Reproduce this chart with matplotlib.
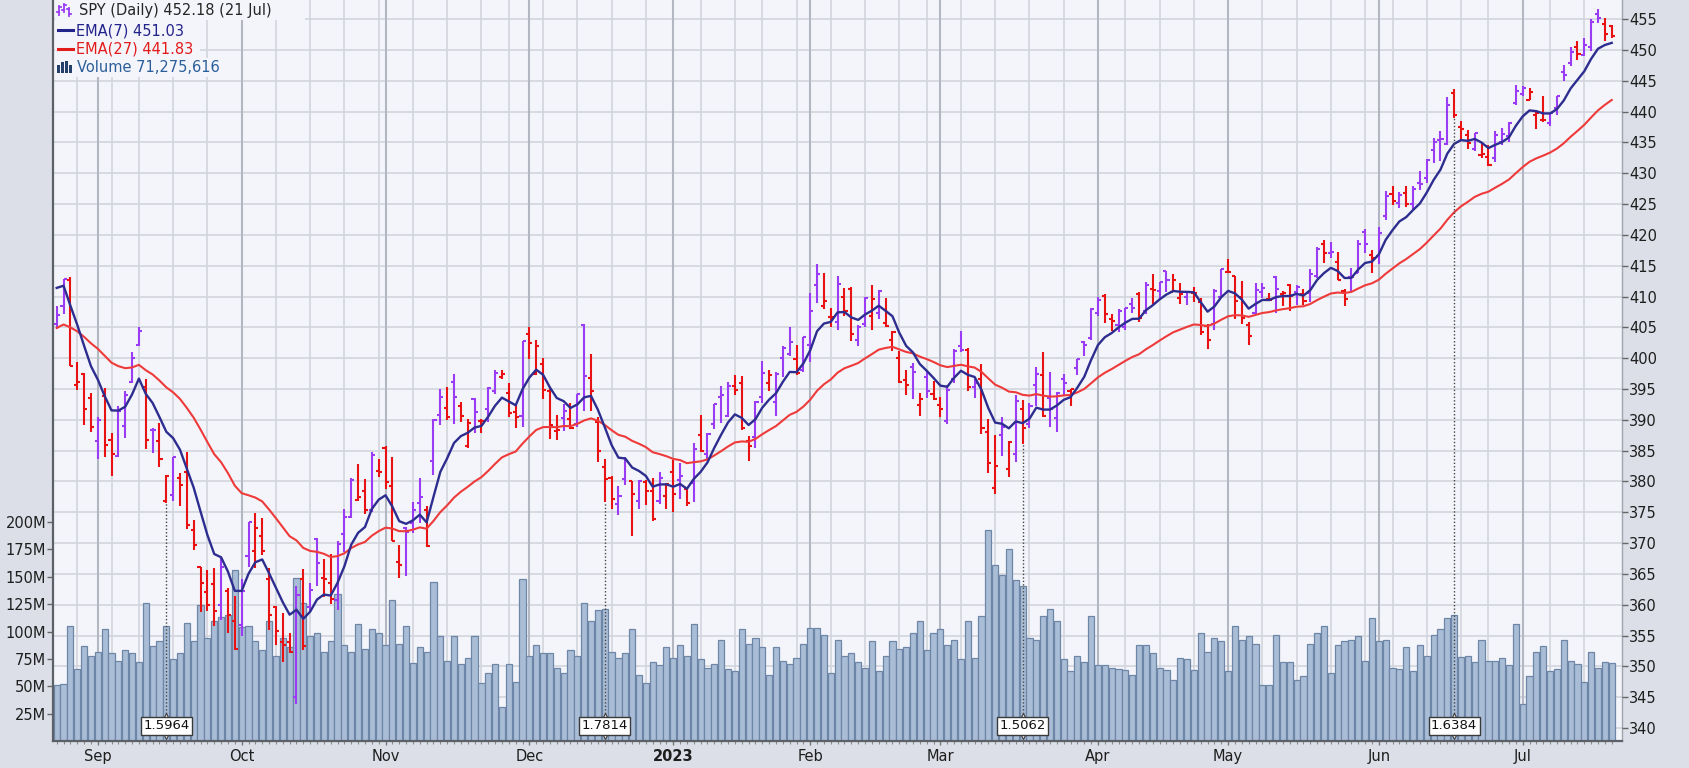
import numpy as np
import pandas as pd
import matplotlib
matplotlib.use("Agg")
import matplotlib.pyplot as plt
import matplotlib.transforms as mtransforms
from matplotlib.lines import Line2D
from matplotlib.patches import Rectangle

# trading calendar (NYSE holidays in range)
holidays = ["2022-09-05", "2022-11-24", "2022-12-26", "2023-01-02", "2023-01-16",
            "2023-02-20", "2023-04-07", "2023-05-29", "2023-06-19", "2023-07-04"]
dates = pd.bdate_range("2022-08-24", "2023-07-21", freq="C", holidays=holidays)

# SPY daily bars (dividend adjusted)
opens = [
    405.5, 408.5, 412.7, 395.7, 397.4, 393.5, 386.6, 393.9, 386.8, 384.1,
    389.0, 396.2, 402.2, 395.3, 388.4, 386.6, 376.8, 377.8, 380.5, 381.5,
    372.1, 366.1, 362.0, 363.4, 360.0, 362.2, 357.4, 356.7, 367.9, 368.7,
    371.1, 364.2, 359.6, 353.9, 353.9, 345.0, 364.2, 359.6, 370.6, 364.4,
    363.6, 360.7, 371.4, 374.2, 377.0, 378.5, 375.3, 381.7, 385.4, 379.3,
    367.0, 372.5, 373.2, 376.5, 375.3, 383.3, 390.8, 391.9, 396.2, 392.2,
    385.8, 393.3, 389.8, 391.8, 394.7, 397.0, 394.3, 391.3, 390.7, 403.9,
    397.5, 399.1, 394.6, 388.2, 390.3, 390.1, 389.4, 405.3, 396.8, 389.6,
    382.3, 380.6, 376.4, 380.4, 380.1, 376.9, 379.9, 378.4, 376.8, 377.7,
    381.5, 380.3, 378.8, 379.7, 387.5, 384.4, 389.3, 393.7, 390.6, 395.5,
    396.0, 386.5, 387.2, 393.7, 395.9, 392.9, 400.1, 400.7, 399.8, 398.1,
    402.2, 411.8, 408.5, 406.7, 405.8, 410.0, 411.3, 402.9, 405.6, 406.8,
    407.3, 405.7, 403.0, 400.1, 396.5, 398.6, 392.4, 396.9, 394.2, 392.4,
    389.8, 396.7, 402.0, 401.4, 395.4, 396.7, 388.1, 379.0, 387.6, 382.0,
    384.4, 391.7, 389.4, 395.7, 397.2, 393.6, 390.3, 396.6, 394.6, 398.4,
    402.7, 403.2, 407.4, 410.1, 406.4, 405.3, 405.1, 408.8, 410.4, 407.7,
    411.3, 410.9, 414.1, 410.7, 409.7, 410.0, 410.5, 409.1, 405.2, 405.5,
    410.0, 414.0, 413.3, 409.9, 405.4, 407.4, 410.7, 409.6, 413.1, 410.4,
    411.9, 410.7, 410.4, 410.5, 413.4, 418.6, 417.1, 415.6, 410.9, 413.2,
    413.8, 420.4, 416.8, 416.6, 423.0, 426.7, 425.1, 426.8, 425.0, 428.4,
    429.3, 433.7, 435.4, 434.7, 443.0, 437.5, 436.2, 433.9, 432.9, 432.6,
    432.4, 435.1, 436.0, 441.4, 442.9, 441.9, 439.4, 438.6, 438.2, 440.5,
    446.4, 447.9, 450.5, 449.1, 450.5, 455.9, 454.2, 453.9]
highs = [
    408.4, 412.9, 413.2, 399.3, 397.6, 394.4, 390.4, 395.1, 387.8, 392.2,
    394.6, 401.0, 405.1, 396.6, 388.6, 389.5, 381.0, 384.0, 381.4, 384.7,
    373.7, 366.2, 365.7, 365.9, 367.8, 362.7, 361.5, 364.1, 373.5, 374.9,
    374.1, 366.0, 359.8, 358.6, 355.5, 363.1, 365.8, 363.6, 370.9, 367.4,
    368.2, 370.3, 375.5, 380.6, 382.9, 380.4, 384.8, 383.7, 385.7, 383.9,
    369.7, 372.6, 376.6, 380.5, 376.0, 390.2, 395.0, 395.4, 397.5, 392.9,
    390.2, 393.5, 390.2, 395.3, 398.1, 398.1, 396.0, 392.5, 402.8, 405.1,
    403.0, 400.0, 395.2, 390.8, 392.6, 392.8, 394.2, 405.6, 400.6, 390.4,
    383.7, 380.9, 379.3, 384.0, 380.1, 380.2, 380.2, 380.5, 381.5, 379.7,
    383.5, 383.0, 378.9, 386.3, 390.8, 387.8, 392.6, 395.5, 396.1, 397.2,
    397.1, 387.3, 393.0, 399.6, 398.1, 397.7, 401.9, 405.1, 402.1, 403.5,
    410.6, 415.2, 413.8, 408.2, 413.4, 411.4, 411.5, 405.3, 409.9, 411.9,
    411.0, 409.8, 404.4, 401.2, 398.1, 399.2, 394.3, 398.0, 396.3, 393.7,
    395.7, 401.5, 404.4, 401.7, 396.7, 399.0, 390.2, 387.5, 390.5, 386.6,
    394.0, 393.2, 392.7, 398.5, 401.0, 397.8, 394.5, 397.4, 395.0, 399.9,
    402.8, 408.2, 409.9, 410.4, 407.2, 408.0, 408.2, 409.7, 410.7, 412.3,
    413.6, 412.4, 414.2, 413.6, 412.2, 410.9, 411.5, 409.7, 405.5, 411.2,
    414.4, 416.1, 413.3, 412.5, 405.8, 412.2, 412.2, 410.5, 413.3, 410.9,
    412.1, 411.9, 411.3, 414.4, 418.0, 419.1, 418.8, 417.2, 411.3, 414.7,
    419.2, 421.0, 417.6, 421.3, 427.1, 428.0, 427.0, 428.0, 428.0, 430.4,
    432.3, 435.7, 436.8, 442.3, 443.6, 438.4, 437.0, 436.6, 435.1, 434.6,
    436.8, 437.4, 438.3, 444.3, 444.1, 443.9, 440.1, 442.6, 439.8, 442.6,
    447.5, 450.4, 451.4, 451.9, 455.0, 456.6, 455.1, 454.1]
lows = [
    404.8, 407.2, 398.8, 394.8, 389.2, 388.1, 383.7, 384.0, 380.9, 383.9,
    387.1, 396.0, 401.9, 385.2, 384.6, 382.4, 376.5, 376.9, 376.0, 372.3,
    368.9, 358.9, 359.0, 356.6, 357.6, 355.4, 352.7, 354.9, 366.1, 365.9,
    368.0, 355.9, 353.4, 350.7, 352.1, 343.9, 352.7, 358.9, 363.1, 361.2,
    360.2, 359.1, 368.6, 374.1, 376.8, 374.7, 375.1, 380.7, 378.7, 370.3,
    364.4, 364.6, 371.6, 373.2, 369.4, 381.0, 389.2, 389.9, 389.3, 389.6,
    385.4, 387.8, 387.8, 389.6, 394.2, 396.7, 390.4, 388.6, 388.8, 399.9,
    397.3, 393.4, 386.9, 386.7, 388.2, 388.5, 388.9, 391.5, 391.5, 383.2,
    376.7, 375.6, 374.5, 379.4, 371.2, 375.6, 376.2, 373.6, 376.3, 375.6,
    375.0, 377.2, 376.0, 376.6, 384.8, 383.5, 388.5, 389.5, 390.4, 394.1,
    388.4, 383.4, 385.5, 392.7, 394.6, 390.7, 397.0, 400.4, 397.3, 397.8,
    399.4, 408.9, 408.0, 405.0, 404.6, 406.8, 402.8, 402.0, 405.1, 404.5,
    406.4, 405.0, 401.1, 396.0, 394.0, 393.3, 390.6, 393.6, 393.2, 390.5,
    389.4, 396.0, 401.0, 394.6, 393.6, 387.7, 381.4, 377.9, 384.2, 380.8,
    383.1, 386.1, 388.6, 392.3, 390.5, 388.9, 388.0, 394.1, 392.2, 397.2,
    400.3, 403.0, 406.9, 405.7, 404.4, 404.2, 404.5, 407.4, 405.9, 407.2,
    408.6, 409.6, 410.7, 410.7, 408.8, 408.7, 409.1, 403.8, 401.5, 404.5,
    409.9, 413.8, 406.3, 405.5, 402.2, 407.1, 409.8, 409.2, 407.4, 408.5,
    407.6, 408.7, 408.7, 409.1, 413.0, 415.5, 416.3, 412.6, 408.4, 410.9,
    413.8, 417.1, 413.8, 415.3, 422.4, 424.8, 424.4, 424.5, 424.2, 427.3,
    428.4, 431.7, 432.0, 434.6, 439.0, 435.6, 434.0, 433.6, 432.5, 431.2,
    431.9, 434.6, 435.0, 441.1, 442.6, 441.9, 437.1, 438.3, 437.6, 439.5,
    444.9, 447.4, 448.4, 449.0, 449.9, 454.4, 451.4, 451.9]
closes = [
    407.0, 412.8, 398.8, 396.1, 391.8, 388.8, 390.0, 385.9, 384.5, 391.4,
    394.0, 400.1, 404.4, 386.8, 388.3, 383.6, 380.9, 383.9, 379.5, 372.9,
    369.7, 363.5, 359.9, 359.0, 366.1, 358.4, 352.9, 362.2, 373.4, 372.5,
    368.7, 358.4, 355.7, 353.4, 352.3, 361.6, 353.3, 362.4, 366.7, 364.1,
    361.0, 369.8, 374.3, 380.3, 377.4, 375.4, 384.3, 381.6, 379.9, 370.4,
    366.5, 371.8, 375.4, 377.4, 369.6, 389.9, 393.7, 390.4, 393.7, 390.7,
    389.5, 391.3, 389.8, 395.1, 397.6, 397.5, 391.1, 390.5, 402.8, 402.5,
    402.0, 394.8, 389.1, 388.4, 391.5, 388.6, 394.2, 397.1, 394.6, 384.9,
    380.4, 377.2, 377.7, 383.3, 377.9, 380.0, 378.5, 373.9, 380.6, 379.6,
    378.0, 380.9, 376.5, 385.2, 385.0, 387.7, 392.6, 394.0, 395.5, 394.8,
    388.6, 385.7, 392.9, 397.6, 397.2, 397.4, 401.7, 402.6, 397.6, 403.4,
    407.7, 413.7, 409.3, 406.7, 412.1, 407.6, 404.0, 405.0, 409.7, 409.6,
    410.9, 405.2, 404.2, 396.1, 395.6, 397.7, 393.4, 394.7, 393.3, 391.8,
    394.8, 401.2, 401.4, 395.3, 395.9, 388.6, 383.0, 382.5, 388.8, 386.4,
    393.1, 388.6, 392.3, 397.4, 390.7, 391.7, 394.3, 396.0, 395.0, 399.9,
    402.2, 407.9, 409.4, 407.2, 406.1, 407.7, 408.1, 408.2, 406.5, 411.9,
    411.0, 412.4, 412.7, 412.6, 410.4, 410.7, 410.5, 404.3, 402.9, 410.9,
    414.4, 414.0, 409.3, 406.5, 403.6, 411.1, 411.4, 409.4, 411.3, 410.6,
    410.1, 411.5, 409.3, 413.7, 417.7, 417.1, 417.2, 412.6, 409.6, 413.1,
    418.5, 418.6, 416.3, 420.3, 426.3, 425.5, 426.4, 425.0, 427.5, 428.3,
    432.2, 435.0, 435.6, 441.0, 439.5, 437.2, 434.9, 436.5, 433.2, 431.4,
    436.2, 436.4, 438.1, 443.3, 443.8, 443.1, 439.7, 438.6, 439.7, 442.5,
    446.0, 449.6, 449.3, 450.8, 454.6, 455.1, 452.6, 452.18]
# volume, millions of shares
volumes = [
    51, 52, 105, 66, 87, 78, 81, 102, 80, 73,
    83, 80, 72, 126, 87, 91, 105, 75, 80, 108,
    91, 124, 94, 110, 113, 115, 156, 104, 105, 91,
    83, 110, 78, 94, 86, 149, 126, 96, 99, 81,
    91, 134, 88, 81, 107, 84, 102, 99, 88, 129,
    89, 105, 71, 86, 81, 145, 96, 73, 96, 70,
    76, 96, 53, 62, 70, 31, 70, 54, 148, 78,
    88, 80, 80, 67, 62, 83, 78, 126, 110, 120,
    121, 81, 76, 80, 102, 60, 53, 72, 69, 86,
    76, 88, 78, 107, 75, 67, 70, 92, 66, 64,
    102, 89, 94, 86, 60, 86, 73, 70, 76, 89,
    103, 103, 97, 62, 92, 78, 80, 72, 67, 91,
    64, 78, 91, 84, 86, 99, 110, 83, 99, 102,
    88, 92, 75, 110, 76, 114, 193, 161, 152, 175,
    147, 142, 94, 92, 114, 121, 110, 75, 64, 78,
    72, 114, 69, 69, 67, 66, 65, 60, 88, 88,
    80, 67, 65, 56, 76, 75, 65, 99, 81, 94,
    91, 64, 105, 92, 96, 89, 51, 51, 97, 72,
    72, 56, 59, 89, 99, 105, 62, 88, 91, 92,
    96, 73, 112, 91, 92, 67, 66, 86, 64, 88,
    78, 97, 102, 112, 115, 77, 78, 72, 92, 73,
    73, 76, 69, 107, 34, 59, 81, 87, 64, 66,
    92, 73, 70, 54, 81, 67, 72, 71.3]

# EMA start values read at the left edge of the chart
ema7_start = 411.4
ema27_start = 404.9

div_dates = ["2022-09-16", "2022-12-16", "2023-03-17", "2023-06-16"]
div_labels = ["1.5964", "1.7814", "1.5062", "1.6384"]

n = len(dates)
for arr in (opens, highs, lows, closes, volumes):
    assert len(arr) == n, (len(arr), n)

o = np.array(opens); h = np.array(highs); l = np.array(lows); c = np.array(closes)
x = np.arange(n)


def ema(vals, span, start):
    k = 2.0 / (span + 1)
    out = [start]
    for v in vals[1:]:
        out.append(out[-1] + k * (v - out[-1]))
    return np.array(out)


ema7 = ema(c, 7, ema7_start)
ema27 = ema(c, 27, ema27_start)

W, H = 1689, 768
BG = "#f4f5fa"
fig = plt.figure(figsize=(W / 100, H / 100), dpi=100, facecolor="#dcdfe7")
L, R, B = 53, 1622, 741
ax = fig.add_axes([L / W, 1 - B / H, (R - L) / W, B / H])
ax.set_facecolor(BG)
axp = ax.twinx()

pmin, pmax = 337.9, 458.1
axp.set_ylim(pmin, pmax)
ax.set_ylim(0, 677)
ax.set_xlim(-0.54, n + 0.5)

# grid
hblend = mtransforms.blended_transform_factory(ax.transAxes, axp.transData)
for p in range(340, 460, 5):
    ax.plot([0, 1], [p, p], transform=hblend, color="#d2d5dd", lw=1.2, zorder=0)
week = dates.to_period("W")
month = dates.to_period("M")
month_idx = [i for i in range(1, n) if month[i] != month[i - 1]]
week_idx = [i for i in range(1, n) if week[i] != week[i - 1] and i not in month_idx]
for i in week_idx:
    ax.axvline(i, color="#d2d5dd", lw=1.2, zorder=0)
for i in month_idx:
    ax.axvline(i, color="#b3b7c1", lw=1.5, zorder=0)

# volume
ax.bar(x, volumes, width=0.9, color="#aabdd6", edgecolor="#6d86a7", lw=0.9, zorder=1)

# OHLC bars
up, down = "#9a3cf5", "#e81212"
prev = np.r_[o[0], c[:-1]]
cols = [up if c[i] >= prev[i] else down for i in range(n)]
axp.vlines(x, l, h, colors=cols, lw=1.5, zorder=3)
axp.hlines(o, x - 0.45, x, colors=cols, lw=1.5, zorder=3)
axp.hlines(c, x, x + 0.45, colors=cols, lw=1.5, zorder=3)

axp.plot(x, ema27, color="#ee3a3a", lw=1.5, zorder=4)
axp.plot(x, ema7, color="#2d2d90", lw=1.7, zorder=4)

# dividend markers
dblend = mtransforms.blended_transform_factory(axp.transData, axp.transAxes)
for d, lab in zip(div_dates, div_labels):
    i = dates.get_loc(pd.Timestamp(d))
    axp.plot([i, i], [pmin + 0.032 * (pmax - pmin), l[i]], color="#444444",
             lw=1, ls=(0, (1, 1.5)), zorder=5)
    axp.plot([i], [0.034], transform=dblend, marker="^", ms=5, mfc="white",
             mec="#3a3a3a", mew=0.8, zorder=5.5)
    axp.plot([i], [0.007], transform=dblend, marker="v", ms=5, mfc="white",
             mec="#3a3a3a", mew=0.8, zorder=5.5)
    axp.text(i, 0.0205, lab, transform=dblend, ha="center", va="center",
             fontsize=9.5, color="#111111", zorder=6,
             bbox=dict(boxstyle="square,pad=0.18", fc="white", ec="#3a3a3a", lw=1))

# axes styling
axp.set_yticks(range(340, 460, 5))
axp.tick_params(axis="y", right=True, labelright=True, length=4, width=1,
                color="#666666", labelsize=10.5, labelcolor="#1e1e1e", pad=1)
vt = [25, 50, 75, 100, 125, 150, 175, 200]
ax.set_yticks(vt)
ax.set_yticklabels([f"{v}M" for v in vt])
ax.tick_params(axis="y", left=True, length=4, width=1, color="#666666",
               labelsize=10.5, labelcolor="#1e1e1e", pad=1)
labels = []
for i in month_idx:
    labels.append("2023" if dates[i].month == 1 else dates[i].strftime("%b"))
ax.set_xticks(month_idx)
ax.set_xticklabels(labels)
for t in ax.get_xticklabels():
    if t.get_text() == "2023":
        t.set_fontweight("bold")
ax.set_xticks(x, minor=True)
ax.tick_params(axis="x", which="major", length=3, width=1, color="#777777",
               labelsize=10.5, labelcolor="#1e1e1e", pad=3)
ax.tick_params(axis="x", which="minor", length=2, width=0.8, color="#8a8a8a")
for s in axp.spines.values():
    s.set_visible(False)
ax.spines["top"].set_visible(False)
ax.spines["right"].set_color("#a0a4ae")
ax.spines["right"].set_linewidth(1)
for s in ("left", "bottom"):
    ax.spines[s].set_color("#5c6069")
    ax.spines[s].set_linewidth(1.6)


# legend (figure pixel coordinates)
def fx(px):
    return px / W


def fy(py):
    return 1 - py / H


for y0, y1, x1 in [(0, 20, 305), (20, 39, 192), (39, 58, 200), (58, 77, 220)]:
    fig.add_artist(Rectangle((fx(55), fy(y1)), fx(x1) - fx(55), fy(y0) - fy(y1),
                             transform=fig.transFigure, fc=BG, ec="none", zorder=5))

for bx, y0, y1, yo, yc in [(59, 6, 15, 12, 7), (64, 4, 12, 10, 5), (69, 8, 16, 9, 14)]:
    fig.add_artist(Line2D([fx(bx), fx(bx)], [fy(y0), fy(y1)], color=up, lw=1.3, zorder=6))
    fig.add_artist(Line2D([fx(bx - 2), fx(bx)], [fy(yo), fy(yo)], color=up, lw=1.3, zorder=6))
    fig.add_artist(Line2D([fx(bx), fx(bx + 2)], [fy(yc), fy(yc)], color=up, lw=1.3, zorder=6))
fig.add_artist(Line2D([fx(58), fx(73)], [fy(30), fy(30)], color="#23238c", lw=2.2, zorder=6))
fig.add_artist(Line2D([fx(58), fx(73)], [fy(48.5), fy(48.5)], color="#e21b1b", lw=2.2, zorder=6))
for bx, bh in [(57, 8), (61, 11), (65, 12), (69, 8)]:
    fig.add_artist(Rectangle((fx(bx), fy(73)), fx(3) - fx(0), fy(73 - bh) - fy(73),
                             transform=fig.transFigure, fc="#253f6b", ec="none", zorder=6))

fig.text(fx(79), fy(11), "SPY (Daily) 452.18 (21 Jul)", fontsize=10.5,
         color="#262626", va="center", zorder=7)
fig.text(fx(76), fy(30.5), "EMA(7) 451.03", fontsize=10.5, color="#23238c",
         va="center", zorder=7)
fig.text(fx(76), fy(49), "EMA(27) 441.83", fontsize=10.5, color="#e21b1b",
         va="center", zorder=7)
fig.text(fx(77), fy(67.5), "Volume 71,275,616", fontsize=10.5, color="#2b5e9a",
         va="center", zorder=7)

fig.savefig("out.png", dpi=100, facecolor=fig.get_facecolor())
